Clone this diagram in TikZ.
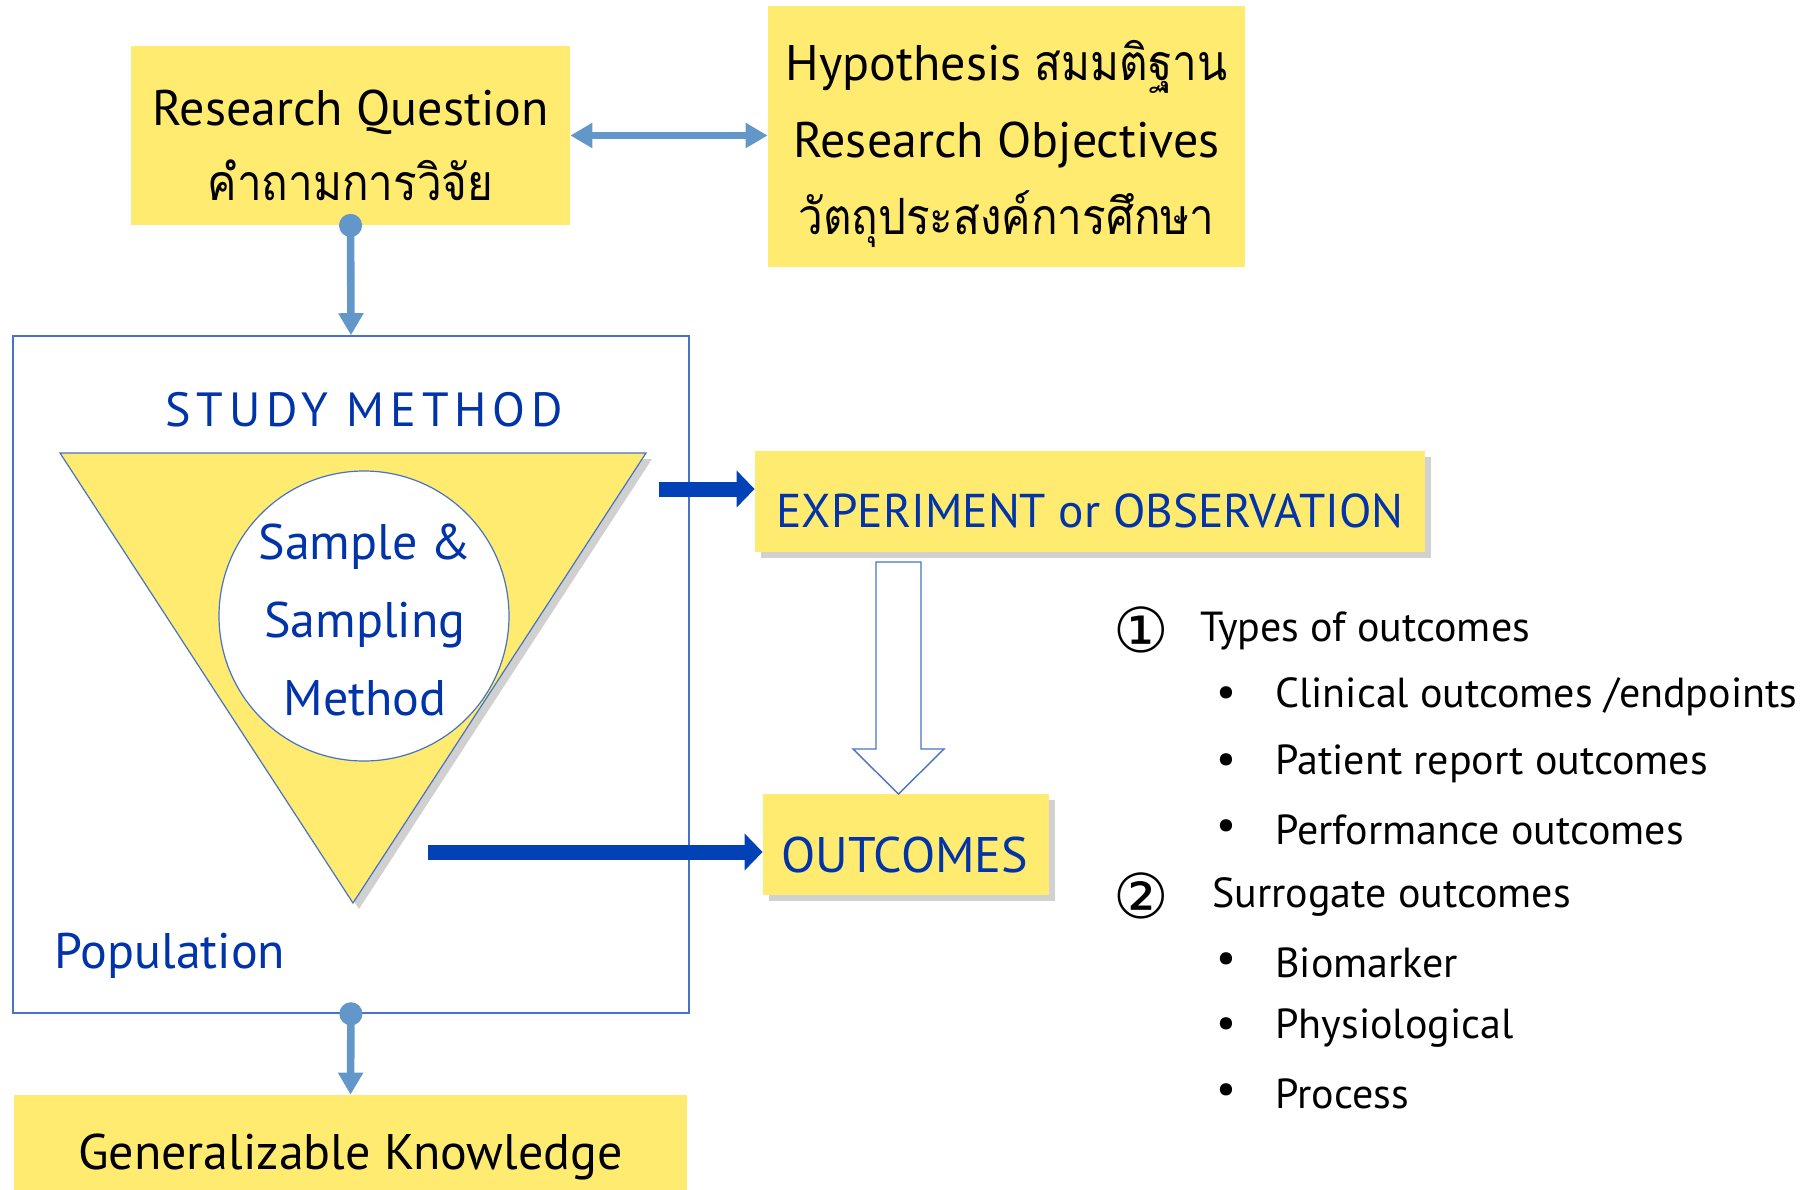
\documentclass[tikz,border=0pt]{standalone}
\usepackage{fontspec}
\setmainfont{PT Sans}
\newfontfamily\thaifont[Script=Thai, FakeStretch=0.88]{Loma}
\newfontfamily\symfont{DejaVu Sans}
\usetikzlibrary{arrows.meta,shadows}
\definecolor{boxyellow}{RGB}{255,235,112}
\definecolor{linkblue}{RGB}{99,151,202}
\definecolor{deepblue}{RGB}{0,52,168}
\definecolor{arrowblue}{RGB}{2,66,182}
\definecolor{edgeblue}{RGB}{70,115,200}
\begin{document}
\begin{tikzpicture}[x=0.5pt,y=-0.5pt,
  ybox/.style={fill=boxyellow, draw=none, inner sep=0pt},
  shadowed/.style={drop shadow={shadow xshift=3pt, shadow yshift=-3pt, opacity=0.3, fill=black!60}},
  bigtext/.style={inner sep=0pt, align=center, font=\fontsize{25}{37.5}\selectfont},
  bluetext/.style={inner sep=0pt, text=deepblue, font=\fontsize{24}{38}\selectfont},
  listtext/.style={inner sep=0pt, anchor=west, font=\fontsize{21}{25}\selectfont},
  numtext/.style={inner sep=0pt, font=\symfont\fontsize{31}{34}\selectfont},
  bullettext/.style={inner sep=0pt, font=\fontsize{22}{25}\selectfont},
  linkarrow/.style={draw=linkblue, line width=3.8pt},
  thickarrow/.style={draw=arrowblue, line width=7.5pt, -{Triangle[length=9pt,width=18pt]}},
]
\useasboundingbox (0,0) rectangle (1812,1190);
\clip (0,0) rectangle (1812,1190);

% top boxes
\node[ybox, minimum width=219.5pt, minimum height=89.5pt] (rq) at (350.5,135.5) {};
\node[bigtext] (rqtext) at (350.5,145) {Research Question\\{\thaifont คำถามการวิจัย}};
\node[ybox, minimum width=238.5pt, minimum height=130.5pt] (hyp) at (1006.5,136.5) {};
\node[bigtext, font=\fontsize{25}{38.5}\selectfont] (hyptext) at (1006.5,143.5)
  {Hypothesis {\thaifont สมมติฐาน}\\Research Objectives\\{\thaifont วัตถุประสงค์การศึกษา}};

% study method frame
\node[draw=edgeblue, line width=0.8pt, fill=white, inner sep=0pt, minimum width=338pt, minimum height=338.5pt] (study) at (351,674.5) {};
\node[inner sep=0pt, text=deepblue, font=\fontsize{24}{28}\selectfont\addfontfeature{LetterSpace=12}] (stitle) at (364,410) {STUDY METHOD};
\draw[fill=boxyellow, draw=edgeblue, line width=0.6pt, shadowed] (60,453) -- (646,453) -- (353,903) -- cycle;
\node[circle, draw=edgeblue, line width=0.6pt, fill=white, minimum size=145pt, inner sep=0pt] (sample) at (364,616) {};
\node[bluetext, align=center, font=\fontsize{25}{39}\selectfont] (sampletext) at (365,620) {Sample \&\\Sampling\\Method};
\node[bluetext, anchor=west, font=\fontsize{25}{30}\selectfont] (pop) at (54,956) {Population};

% right boxes
\node[ybox, shadowed, minimum width=335pt, minimum height=50.5pt] (exp) at (1090,501.5) {};
\node[bluetext, font=\fontsize{23.7}{30}\selectfont] (exptext) at (1090,511) {EXPERIMENT or OBSERVATION};
\node[ybox, shadowed, minimum width=143pt, minimum height=50.5pt] (out) at (906,844.5) {};
\node[bluetext, font=\fontsize{25}{30}\selectfont] (outtext) at (905,855) {OUTCOMES};

% bottom box
\node[ybox, minimum width=336.5pt, minimum height=62pt] (gen) at (350.5,1157) {};
\node[bigtext, font=\fontsize{25}{30}\selectfont] (gentext) at (350.5,1157) {Generalizable Knowledge};

% connectors
\draw[linkarrow, {Triangle[length=11pt,width=12pt]}-{Triangle[length=11pt,width=12pt]}] (rq.east) -- (rq.east -| hyp.west);
\draw[linkarrow, {Circle[length=11.5pt]}-{Triangle[length=11pt,width=12pt]}] ([yshift=5.75pt]rq.south) -- (study.north);
\draw[linkarrow, {Circle[length=11.5pt]}-{Triangle[length=11pt,width=12pt]}] ([yshift=5.75pt]study.south) -- (gen.north);
\coordinate (e1) at (659,489);
\draw[thickarrow] (e1) -- (e1 -| exp.west);
\coordinate (o1) at (428,852);
\draw[thickarrow] (o1) -- (o1 -| out.west);
% hollow block arrow
\coordinate (ha) at (876,562);
\coordinate (hb) at (921,562);
\coordinate (hc) at (921,749);
\coordinate (hd) at (944,749);
\coordinate (he) at (898.5,794);
\coordinate (hf) at (853,749);
\coordinate (hg) at (876,749);
\draw[draw=edgeblue, fill=white, line width=0.7pt, line join=miter] (ha) -- (hb) -- (hc) -- (hd) -- (he) -- (hf) -- (hg) -- cycle;

% list
\node[numtext] (n1) at (1141,630) {①};
\node[listtext] (t1) at (1200,631) {Types of outcomes};
\node[bullettext] (b1) at (1226,697) {•};
\node[listtext] (t2) at (1275,697) {Clinical outcomes /endpoints};
\node[bullettext] (b2) at (1226,764) {•};
\node[listtext] (t3) at (1275,764) {Patient report outcomes};
\node[bullettext] (b3) at (1226,830) {•};
\node[listtext] (t4) at (1275,830) {Performance outcomes};
\node[numtext] (n2) at (1141,896) {②};
\node[listtext] (t5) at (1212,897) {Surrogate outcomes};
\node[bullettext] (b4) at (1226,963) {•};
\node[listtext] (t6) at (1275,963) {Biomarker};
\node[bullettext] (b5) at (1226,1028) {•};
\node[listtext] (t7) at (1275,1028) {Physiological};
\node[bullettext] (b6) at (1226,1094) {•};
\node[listtext] (t8) at (1275,1094) {Process};
\end{tikzpicture}
\end{document}
